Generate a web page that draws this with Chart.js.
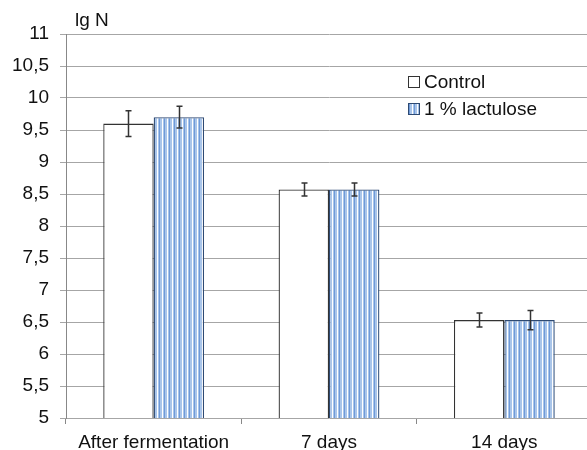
<!DOCTYPE html>
<html>
<head>
<meta charset="utf-8">
<script src="https://cdn.jsdelivr.net/npm/chart.js@4"></script>
<style>
  html, body { margin: 0; background: #fff; overflow: hidden; }
  #wrap { width: 587px; height: 450px; overflow: hidden; }
</style>
</head>
<body>
<div id="wrap"><canvas id="myChart" width="592" height="450"></canvas></div>
<script>
// lg N by storage time
var labels = ['After fermentation', '7 days', '14 days'];
var control = [9.6, 8.57, 6.53];
var lactulose = [9.7, 8.57, 6.53];
var controlErr = [0.2, 0.1, 0.11];
var lactuloseErr = [0.17, 0.1, 0.15];
var seriesNames = ['Control', '1 % lactulose'];
var yTitle = 'lg N';

var font = "'Liberation Sans', Arial, sans-serif";

// vertical stripe fill for the second series
function stripes() {
    var c = document.createElement('canvas');
    c.width = 5; c.height = 4;
    var g = c.getContext('2d');
    var cols = ['#a9c5ea', '#a9c5ea', '#ffffff', '#a9c5ea', '#6f9ad8'];
    for (var i = 0; i < cols.length; i++) {
        g.fillStyle = cols[i];
        g.fillRect(i, 0, 1, 4);
    }
    return g.createPattern(c, 'repeat');
}
var pattern = stripes();

var extras = {
    id: 'extras',
    afterDatasetsDraw: function (chart) {
        var ctx = chart.ctx;
        var y = chart.scales.y;
        var errs = [controlErr, lactuloseErr];
        ctx.save();
        ctx.strokeStyle = '#333';
        ctx.lineWidth = 1.5;
        chart.data.datasets.forEach(function (ds, d) {
            chart.getDatasetMeta(d).data.forEach(function (bar, i) {
                var v = ds.data[i], e = errs[d][i];
                var x = Math.round(bar.x) + 0.5;
                var t = y.getPixelForValue(v + e), b = y.getPixelForValue(v - e);
                ctx.beginPath();
                ctx.moveTo(x, t); ctx.lineTo(x, b);
                ctx.moveTo(x - 3, t); ctx.lineTo(x + 3, t);
                ctx.moveTo(x - 3, b); ctx.lineTo(x + 3, b);
                ctx.stroke();
            });
        });
        // legend
        ctx.font = '19px ' + font;
        ctx.textBaseline = 'middle';
        chart.data.datasets.forEach(function (ds, d) {
            var ly = 82 + d * 27;
            ctx.fillStyle = ds.backgroundColor;
            ctx.fillRect(408.5, ly - 5.5, 11, 11);
            ctx.strokeStyle = ds.borderColor;
            ctx.lineWidth = 1;
            ctx.strokeRect(408.5, ly - 5.5, 11, 11);
            ctx.fillStyle = '#111';
            ctx.fillText(ds.label, 424, ly + 1);
        });
        // axis title
        ctx.fillText(yTitle, 75, 21);
        ctx.restore();
    }
};

var ctx = document.getElementById('myChart').getContext('2d');
var myChart = new Chart(ctx, {
    type: 'bar',
    data: {
        labels: labels,
        datasets: [{
            label: seriesNames[0],
            data: control,
            backgroundColor: '#ffffff',
            borderColor: '#333333',
            borderWidth: 1.3,
            borderSkipped: 'bottom'
        }, {
            label: seriesNames[1],
            data: lactulose,
            backgroundColor: pattern,
            borderColor: '#2e4a73',
            borderWidth: 1.3,
            borderSkipped: 'bottom'
        }]
    },
    options: {
        responsive: false,
        animation: false,
        devicePixelRatio: 1,
        layout: { padding: { top: 34, right: 0, left: 0, bottom: 0 } },
        datasets: { bar: { categoryPercentage: 0.575, barPercentage: 1 } },
        plugins: {
            legend: { display: false },
            tooltip: { enabled: false }
        },
        scales: {
            x: {
                afterFit: function (s) { s.height = 32; },
                grid: { drawOnChartArea: false, tickLength: 6, color: '#888', offset: true },
                border: { display: false },
                ticks: { color: '#111', font: { family: font, size: 19 }, padding: 7, maxRotation: 0 }
            },
            y: {
                min: 5,
                max: 11,
                afterFit: function (s) { s.width = 66; },
                grid: { color: '#a6a6a6', tickLength: 6 },
                border: { color: '#888' },
                ticks: {
                    stepSize: 0.5,
                    color: '#111',
                    padding: 11,
                    font: { family: font, size: 19 },
                    callback: function (v) { return String(v).replace('.', ','); }
                }
            }
        }
    },
    plugins: [extras]
});
</script>
</body>
</html>
